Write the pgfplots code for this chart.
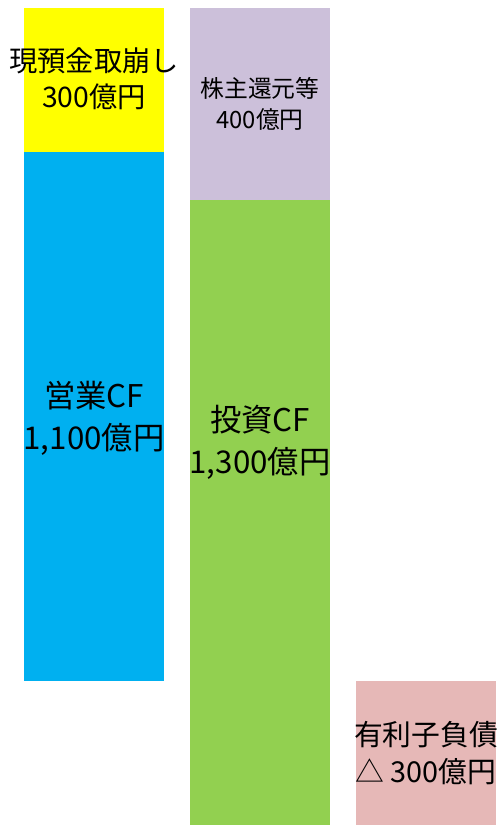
\documentclass[border=0pt]{standalone}
\usepackage{pgfplots}
\pgfplotsset{compat=1.18}
\usepackage{fontspec}
\setmainfont{Noto Sans CJK JP}
\definecolor{cyel}{HTML}{FFFF00}
\definecolor{cblue}{HTML}{00B0F0}
\definecolor{cpur}{HTML}{CCC0DA}
\definecolor{cgrn}{HTML}{92D050}
\definecolor{cpink}{HTML}{E6B8B7}
\begin{document}
\begin{tikzpicture}
\begin{axis}[
  scale only axis, width=500pt, height=825pt,
  hide axis, clip=false,
  xmin=-0.5663, xmax=2.4458, ymin=0, ymax=1716.6,
  ybar stacked, bar width=0.8434,
  enlargelimits=false,
]
\addplot[fill=none, draw=none] coordinates {(0,300) (1,0) (2,0)};
\addplot[fill=cblue, draw=none] coordinates {(0,1100) (1,0) (2,0)};
\addplot[fill=cgrn, draw=none] coordinates {(0,0) (1,1300) (2,0)};
\addplot[fill=cpink, draw=none] coordinates {(0,0) (1,0) (2,300)};
\addplot[fill=cyel, draw=none] coordinates {(0,300) (1,0) (2,0)};
\addplot[fill=cpur, draw=none] coordinates {(0,0) (1,400) (2,0)};
\coordinate (tA) at (axis cs:0,1552);
\coordinate (tB) at (axis cs:1,1500);
\coordinate (tC) at (axis cs:0,847);
\coordinate (tD) at (axis cs:1,797);
\coordinate (tE) at (axis cs:2,150);
\end{axis}
\node[align=center, font=\fontsize{28.3}{36}\selectfont, inner sep=0pt] at (tA) {現預金取崩し\\300億円};
\node[align=center, font=\fontsize{23.8}{31}\selectfont, inner sep=0pt] at (tB) {株主還元等\\400億円};
\node[align=center, font=\fontsize{31.3}{42}\selectfont, inner sep=0pt] at (tC) {営業CF\\1,100億円};
\node[align=center, font=\fontsize{31.3}{42}\selectfont, inner sep=0pt] at (tD) {投資CF\\1,300億円};
\node[align=center, font=\fontsize{28.8}{37}\selectfont, inner sep=0pt] at (tE) {有利子負債\\△ 300億円};
\pgfresetboundingbox
\useasboundingbox (current axis.south west) rectangle (current axis.north east);
\end{tikzpicture}
\end{document}
